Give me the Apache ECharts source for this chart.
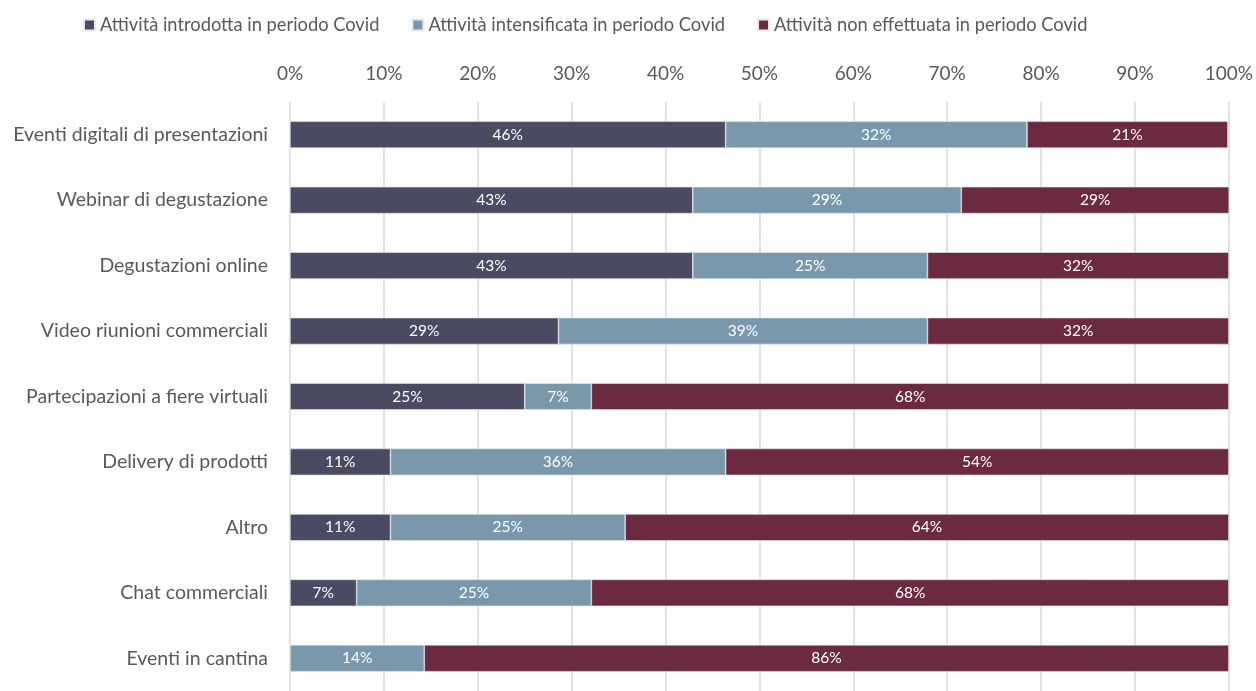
<!DOCTYPE html>
<html>
<head>
<meta charset="utf-8">
<script src="https://cdn.jsdelivr.net/npm/echarts@6/dist/echarts.min.js"></script>
<style>html,body{margin:0;padding:0;background:#fff;}#c{width:1256px;height:691px;}</style>
</head>
<body>
<div id="c"></div>
<script>
const categories = [
  "Eventi digitali di presentazioni",
  "Webinar di degustazione",
  "Degustazioni online",
  "Video riunioni commerciali",
  "Partecipazioni a fiere virtuali",
  "Delivery di prodotti",
  "Altro",
  "Chat commerciali",
  "Eventi in cantina"
];
const seriesNames = [
  "Attività introdotta in periodo Covid",
  "Attività intensificata in periodo Covid",
  "Attività non effettuata in periodo Covid"
];
const introdotta    = [46.4, 42.9, 42.9, 28.6, 25.0, 10.7, 10.7, 7.1, 0];
const intensificata = [32.1, 28.6, 25.0, 39.3, 7.1, 35.7, 25.0, 25.0, 14.3];
const nonEffettuata = [21.4, 28.6, 32.1, 32.1, 67.9, 53.6, 64.3, 67.9, 85.7];
const colors = ["#4A4B62", "#7A98AC", "#6B2A40"];
const FONT = "Lato";

function mk(name, data, color) {
  return {
    name: name,
    type: "bar",
    stack: "tot",
    barWidth: "41%",
    data: data,
    itemStyle: { color: color, borderColor: "#E6E9EE", borderWidth: 0.6 },
    label: {
      show: true,
      position: "inside",
      color: "#ffffff",
      fontFamily: FONT,
      fontSize: 15.5,
      formatter: p => p.value > 0 ? Math.round(p.value) + "%" : ""
    }
  };
}

const chart = echarts.init(document.getElementById("c"));
chart.setOption({
  animation: false,
  backgroundColor: "#ffffff",
  color: colors,
  legend: {
    top: 11,
    left: 78,
    itemWidth: 11,
    itemHeight: 11,
    itemGap: 32,
    icon: "rect",
    textStyle: { color: "#595959", fontFamily: FONT, fontSize: 18.3 },
    data: seriesNames
  },
  grid: { left: 290, right: 27, top: 102, height: 595, containLabel: false },
  xAxis: {
    type: "value",
    position: "top",
    min: 0, max: 100, interval: 10,
    axisLine: { show: false },
    axisTick: { show: false },
    axisLabel: { color: "#595959", fontFamily: FONT, fontSize: 19, margin: 19, formatter: "{value}%" },
    splitLine: { lineStyle: { color: "#D9D9D9", width: 1.5 } }
  },
  yAxis: {
    type: "category",
    inverse: true,
    data: categories,
    axisLine: { show: false },
    axisTick: { show: false },
    axisLabel: { color: "#595959", fontFamily: FONT, fontSize: 19.5, margin: 22 }
  },
  series: [
    mk(seriesNames[0], introdotta, colors[0]),
    mk(seriesNames[1], intensificata, colors[1]),
    mk(seriesNames[2], nonEffettuata, colors[2])
  ]
});
</script>
</body>
</html>
